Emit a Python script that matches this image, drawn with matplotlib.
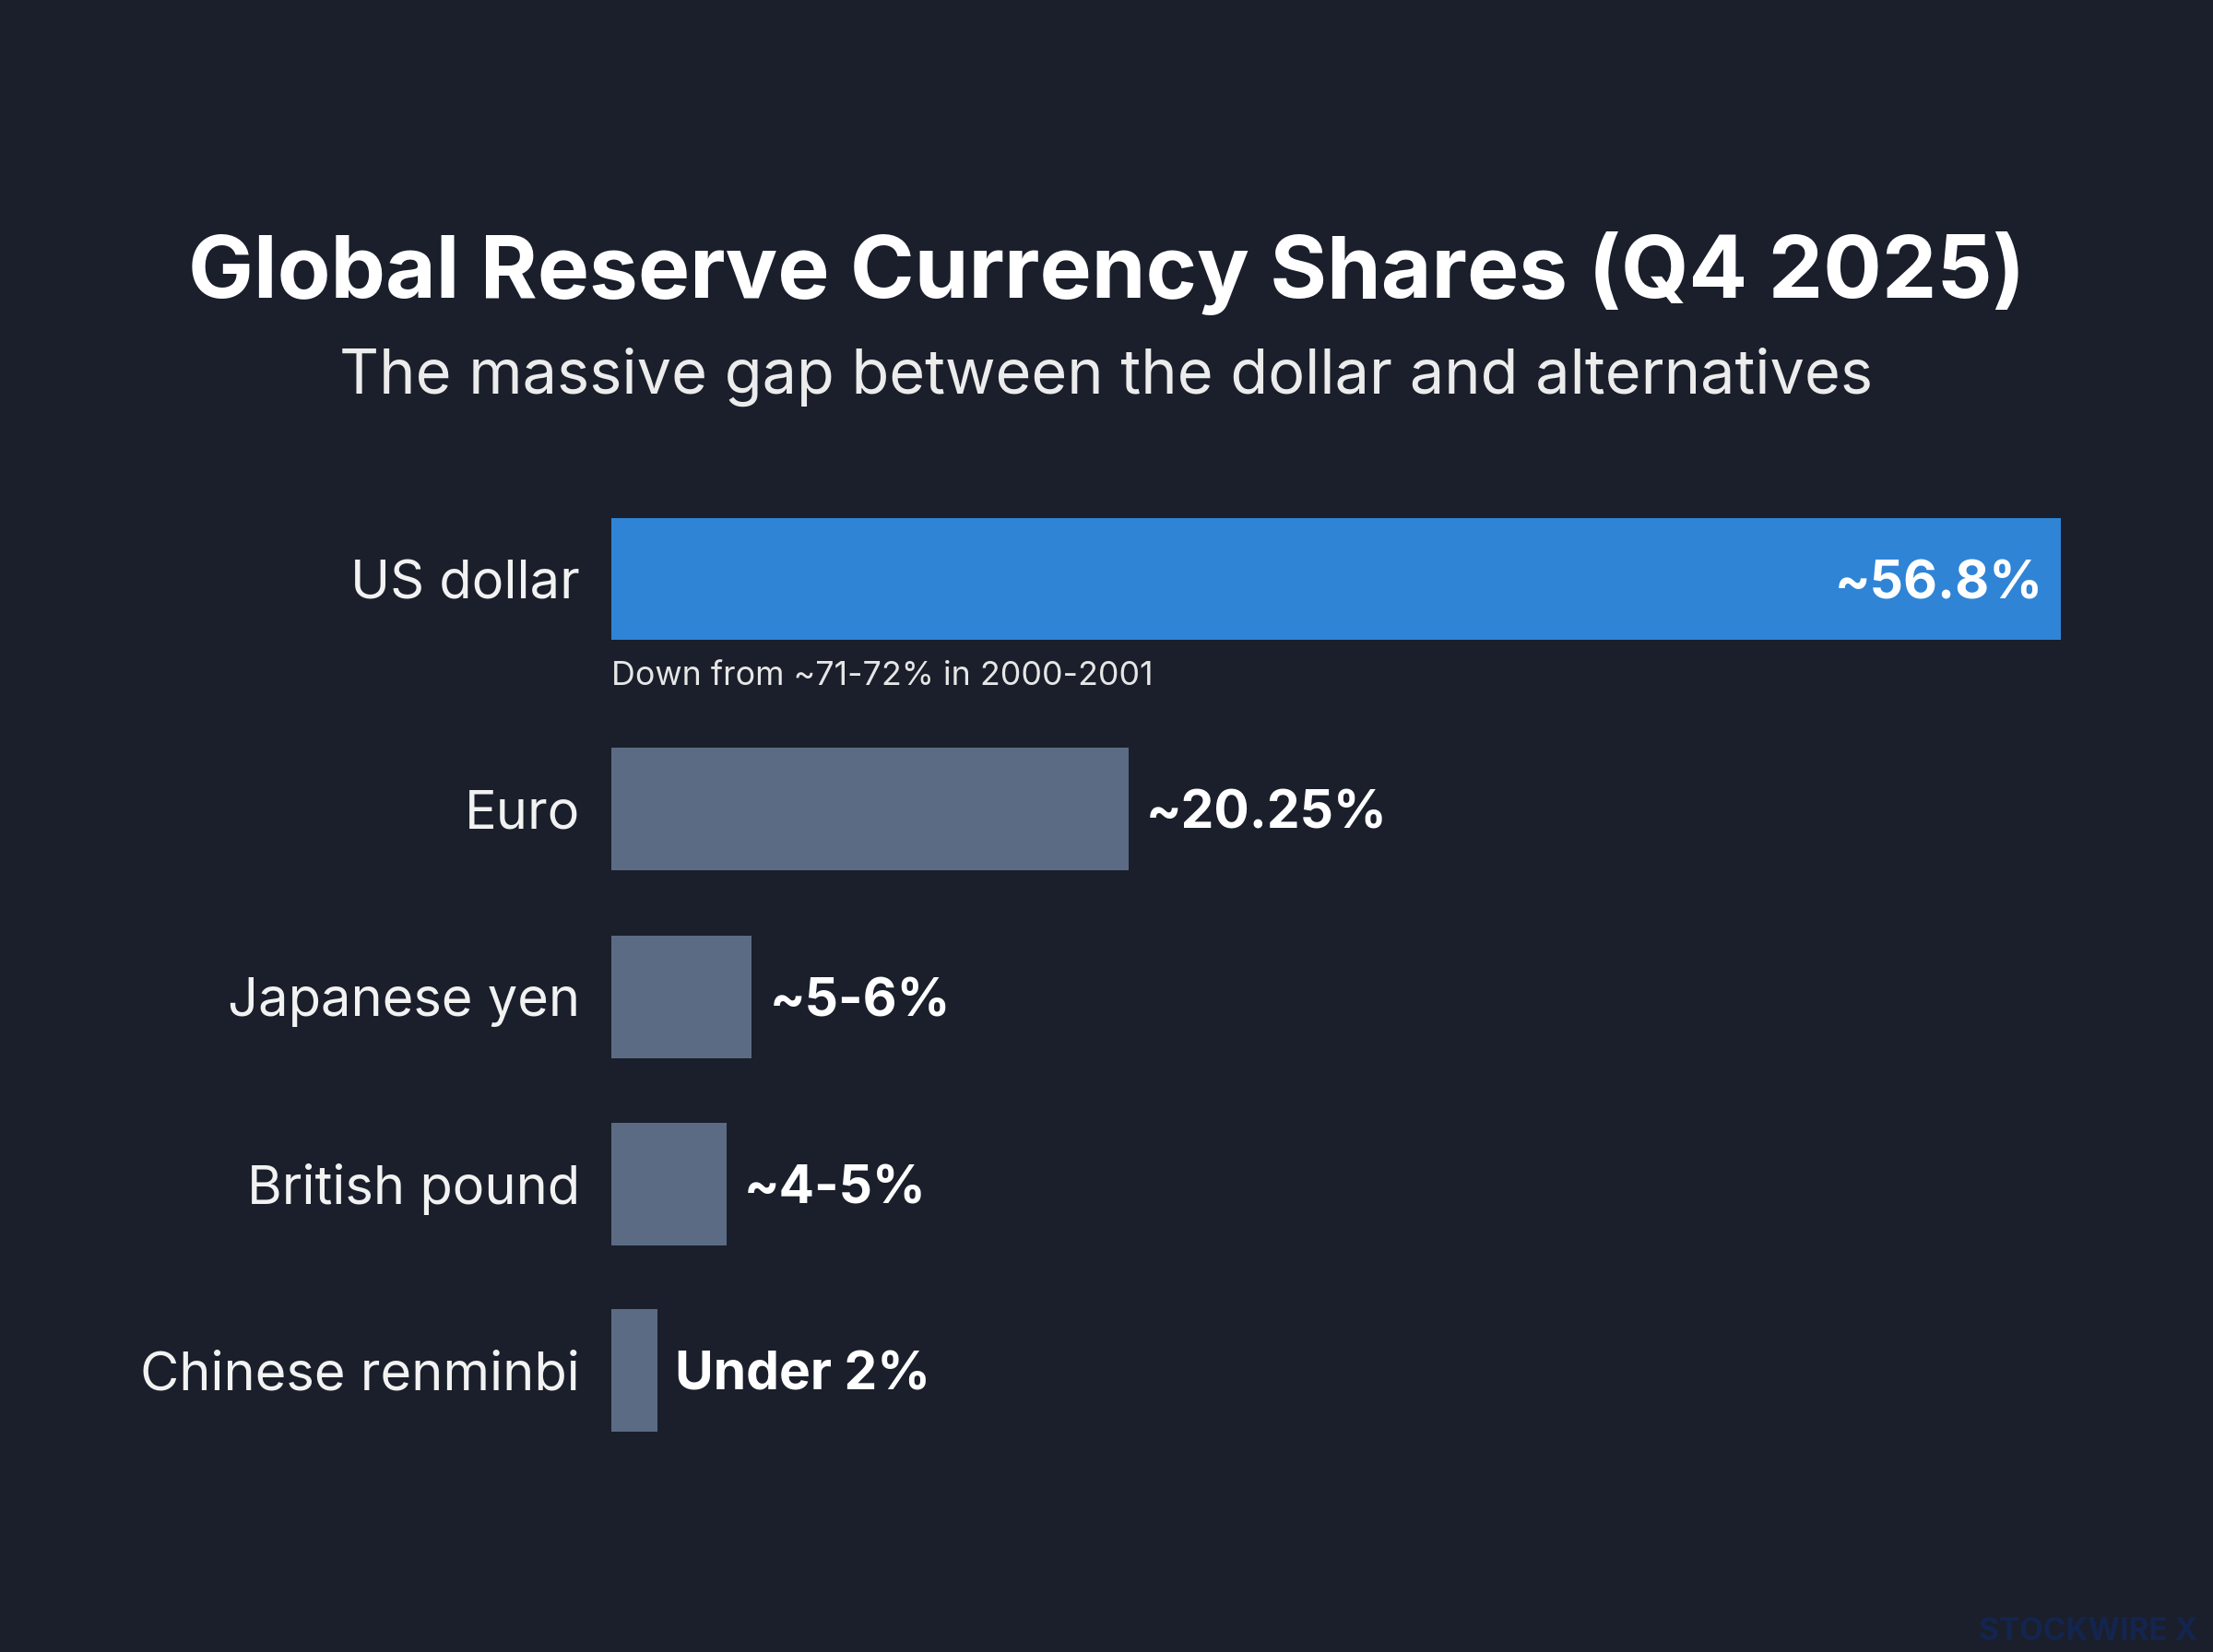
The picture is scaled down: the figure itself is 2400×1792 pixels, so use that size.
import matplotlib.pyplot as plt

plt.rcParams['font.family'] = ['Inter', 'DejaVu Sans']

# Data
currencies = ['US dollar', 'Euro', 'Japanese yen', 'British pound', 'Chinese renminbi']
shares = [56.8, 20.25, 5.5, 4.5, 1.8]
share_labels = ['~56.8%', '~20.25%', '~5-6%', '~4-5%', 'Under 2%']
note = 'Down from ~71-72% in 2000-2001'

bg = '#1a1f2b'
blue = '#2f84d6'
grey = '#5b6b84'

fig = plt.figure(figsize=(12, 8.96), dpi=200, facecolor=bg)

# axes placed so the bars line up with the reference layout
ax = fig.add_axes([0.27625, 0.10714, 0.72375, 0.61384])
ax.set_facecolor(bg)
ax.set_xlim(0, 62.75)
ax.set_ylim(4.788, -0.6305)
ax.axis('off')

ypos = [0, 1.227, 2.232, 3.232, 4.23]
colors = [blue] + [grey] * 4
ax.barh(ypos, shares, height=0.655, color=colors, edgecolor='none')

for i, (name, val, lab) in enumerate(zip(currencies, shares, share_labels)):
    ax.text(-1.23, ypos[i] + 0.03, name, ha='right', va='center', fontsize=20.8,
            color='#f2f2f2', clip_on=False)
    if i == 0:
        ax.text(val - 0.7, ypos[i] + 0.03, lab, ha='right', va='center', fontsize=20.5,
                fontweight='bold', color='white')
    else:
        ax.text(val + 0.7, ypos[i] + 0.03, lab, ha='left', va='center', fontsize=20.5,
                fontweight='bold', color='white')

ax.text(0, ypos[0] + 0.52, note, ha='left', va='center', fontsize=12.9,
        color='#e6e6e6')

fig.text(0.5, 1 - 296 / 1792, 'Global Reserve Currency Shares (Q4 2025)',
         ha='center', va='center', fontsize=34, fontweight='bold', color='white')
fig.text(0.5, 1 - 409 / 1792, 'The massive gap between the dollar and alternatives',
         ha='center', va='center', fontsize=24, color='#ececec')

fig.text(0.993, 1 - 1770 / 1792, 'STOCKWIRE X', ha='right', va='center',
         fontsize=12, fontweight='bold', color='#13254f')

fig.savefig('out.png', dpi=200, facecolor=bg)
